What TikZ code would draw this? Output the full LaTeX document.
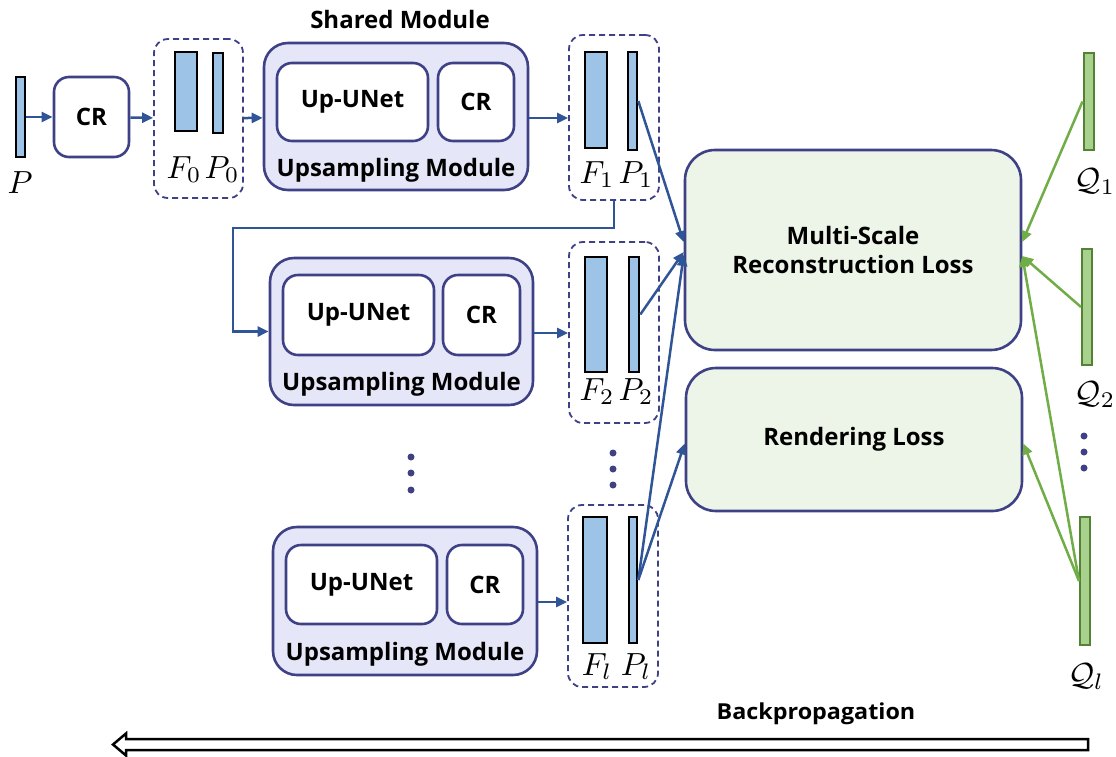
\documentclass[tikz,border=0pt]{standalone}
\usepackage{fontspec}
\setsansfont{Open Sans}
\usetikzlibrary{arrows.meta,calc}
\definecolor{navy}{HTML}{3F4186}
\definecolor{arrowblue}{HTML}{2F5597}
\definecolor{barblue}{HTML}{9DC3E6}
\definecolor{modfill}{HTML}{E5E7F8}
\definecolor{lossfill}{HTML}{EDF5E8}
\definecolor{qgreen}{HTML}{70AD47}
\definecolor{qfill}{HTML}{A9D18E}
\definecolor{qdark}{HTML}{548235}
\newcommand{\mlab}[1]{\scalebox{3.2}{$#1$}}
\tikzset{
  txt/.style={font=\sffamily\bfseries\fontsize{24}{29}\selectfont},
  mathlbl/.style={font=\fontsize{10}{12}\selectfont, inner sep=0pt, anchor=base},
  bar/.style={draw=black, line width=2.6pt, fill=barblue, inner sep=0pt},
  qbar/.style={draw=qdark, line width=2pt, fill=qfill, inner sep=0pt},
  modbox/.style={draw=navy, line width=2.6pt, fill=modfill, rounded corners=24pt, inner sep=0pt},
  innerbox/.style={draw=navy, line width=2.6pt, fill=white, rounded corners=15pt, inner sep=0pt, txt},
  crbox/.style={draw=navy, line width=2.6pt, fill=white, rounded corners=15pt, inner sep=0pt, txt},
  dbox/.style={draw=navy, line width=1.8pt, dash pattern=on 6pt off 4pt, rounded corners=14pt, inner sep=0pt},
  lossbox/.style={draw=navy, line width=2.6pt, fill=lossfill, rounded corners=30pt, inner sep=0pt, txt, align=center},
  conn/.style={draw=arrowblue, line width=2.5pt, -{Triangle[length=11pt,width=10pt]}},
  gconn/.style={draw=qgreen, line width=2.5pt, -{Triangle[length=11pt,width=10pt]}},
  dotty/.style={circle, fill=navy, inner sep=0pt, minimum size=7pt},
}
\begin{document}
\begin{tikzpicture}[x=1pt,y=-1pt]
\useasboundingbox (0,0) rectangle (1116,756);

% input
\node[bar, minimum width=9pt, minimum height=80pt] (P) at (20.5,117) {};
\node[mathlbl] (Plbl) at (20,193) {\mlab{P}};
\node[crbox, minimum width=75pt, minimum height=80pt] (CR0) at (91.5,117) {CR};
\node[dbox, minimum width=89pt, minimum height=159pt] (D0) at (198.5,118.5) {};
\node[bar, minimum width=22pt, minimum height=79pt] (F0) at (186,91.5) {};
\node[bar, minimum width=10pt, minimum height=80pt] (P0) at (218,93) {};
\node[mathlbl] (F0l) at (184,178) {\mlab{F_0}};
\node[mathlbl] (P0l) at (222,178) {\mlab{P_0}};

% module 1
\node[txt] (shared) at (400,19) {Shared Module};
\node[modbox, minimum width=264pt, minimum height=147pt] (M1) at (396,116.5) {};
\node[innerbox, minimum width=151pt, minimum height=78pt] (U1) at (352.5,102) {Up-UNet};
\node[innerbox, minimum width=76pt, minimum height=78pt] (C1) at (476,102) {CR};
\node[txt] (L1) at (396,170) {Upsampling Module};

% level 1 features
\node[dbox, minimum width=90pt, minimum height=165pt] (D1) at (614,117.5) {};
\node[bar, minimum width=22pt, minimum height=96pt] (F1) at (596,100) {};
\node[bar, minimum width=9pt, minimum height=98pt] (P1) at (632.5,101) {};
\node[mathlbl] (F1l) at (597,183) {\mlab{F_1}};
\node[mathlbl] (P1l) at (636,183) {\mlab{P_1}};

% module 2
\node[modbox, minimum width=263pt, minimum height=147pt] (M2) at (401.5,331.5) {};
\node[innerbox, minimum width=151pt, minimum height=80pt] (U2) at (358.5,315) {Up-UNet};
\node[innerbox, minimum width=77pt, minimum height=80pt] (C2) at (481.5,315) {CR};
\node[txt] (L2) at (401.5,384) {Upsampling Module};

\node[dbox, minimum width=90pt, minimum height=181pt] (D2) at (614,332.5) {};
\node[bar, minimum width=22pt, minimum height=115pt] (F2) at (596,314.5) {};
\node[bar, minimum width=10pt, minimum height=115pt] (P2) at (634,314.5) {};
\node[mathlbl] (F2l) at (597,400) {\mlab{F_2}};
\node[mathlbl] (P2l) at (636,400) {\mlab{P_2}};

% module l
\node[modbox, minimum width=264pt, minimum height=148pt] (Ml) at (405,601) {};
\node[innerbox, minimum width=151pt, minimum height=79pt] (Ul) at (361.5,584.5) {Up-UNet};
\node[innerbox, minimum width=76pt, minimum height=79pt] (Cl) at (485,584.5) {CR};
\node[txt] (Ll) at (405,654) {Upsampling Module};

\node[dbox, minimum width=90pt, minimum height=182pt] (Dl) at (613,596) {};
\node[bar, minimum width=24pt, minimum height=126pt] (Fl) at (595,580) {};
\node[bar, minimum width=8pt, minimum height=126pt] (Pl) at (633,580) {};
\node[mathlbl] (Fll) at (597,675) {\mlab{F_l}};
\node[mathlbl] (Pll) at (636,675) {\mlab{P_l}};

% dots
\foreach \y [count=\i] in {457,473,490} \node[dotty] (da\i) at (411,\y) {};
\foreach \y [count=\i] in {453,469,485} \node[dotty] (db\i) at (613,\y) {};
\foreach \y [count=\i] in {436,452,468} \node[dotty] (dc\i) at (1084,\y) {};

% losses
\node[lossbox, minimum width=336pt, minimum height=200pt] (MS) at (853,250) {Multi-Scale\\Reconstruction Loss};
\node[lossbox, minimum width=336pt, minimum height=143pt] (RL) at (854,439.5) {Rendering Loss};

% ground truth
\node[qbar, minimum width=10pt, minimum height=97pt] (Q1) at (1088.5,101.5) {};
\node[qbar, minimum width=10pt, minimum height=116pt] (Q2) at (1087,307) {};
\node[qbar, minimum width=10pt, minimum height=128pt] (Ql) at (1085,581) {};
\node[mathlbl] (Q1l) at (1095,190) {\mlab{\mathcal{Q}_1}};
\node[mathlbl] (Q2l) at (1095,403) {\mlab{\mathcal{Q}_2}};
\node[mathlbl] (Qll) at (1086,685) {\mlab{\mathcal{Q}_l}};

% connectors
\draw[conn] (P) -- (CR0);
\draw[conn] (CR0) -- (D0);
\draw[conn] (D0) -- (M1);
\draw[conn] (M1.east |- 0,118) -- (D1.west |- 0,118);
\draw[conn] (D1.south) |- (233,228) |- (M2.west);
\draw[conn] (M2.east |- 0,333) -- (D2.west |- 0,333);
\draw[conn] (Ml.east |- 0,602) -- (Dl.west |- 0,602);

\draw[conn] (P1.east) -- ($(MS.west)+(0,-8)$);
\draw[conn] (P2.east) -- ($(MS.west)+(0,2)$);
\draw[conn] (Pl.east) -- ($(MS.west)+(0,5)$);
\draw[conn] (Pl.east) -- ($(RL.west)+(0,4)$);

\draw[gconn] (Q1.west) -- ($(MS.east)+(0,-8)$);
\draw[gconn] (Q2.west) -- ($(MS.east)+(0,6)$);
\draw[gconn] (Ql.west) -- ($(MS.east)+(0,6)$);
\draw[gconn] (Ql.west) -- ($(RL.east)+(0,4)$);

% backpropagation
\node[txt, font=\sffamily\bfseries\fontsize{22}{26}\selectfont, xscale=1.06] (bp) at (816,714) {Backpropagation};
\draw[line width=2.5pt, fill=white, line join=miter] (1088,739) -- (126,739) -- (126,733.5) -- (113,744.5) -- (126,755.5) -- (126,750) -- (1088,750) -- cycle;
\end{tikzpicture}
\end{document}
